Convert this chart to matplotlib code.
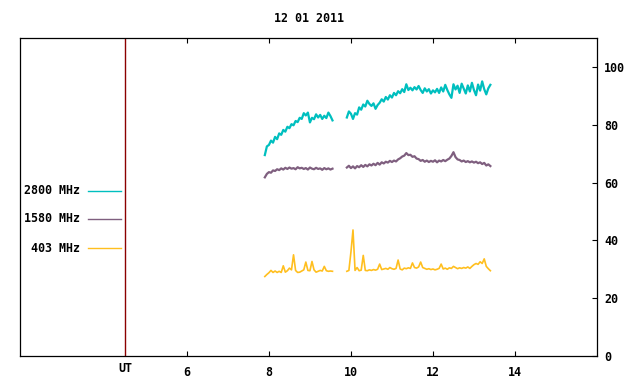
import numpy as np
import matplotlib
matplotlib.use("Agg")
import matplotlib.pyplot as plt
from matplotlib.lines import Line2D

title = "12 01 2011"
series_names = ["2800 MHz", "1580 MHz", "403 MHz"]
series_colors = ["#00bfbf", "#7f5f7f", "#ffbf1f"]

step = 0.05
seg1_start = 7.90
seg2_start = 9.90

f2800_a = [69.5, 72.5, 73.0, 74.5, 73.8, 75.8, 75.0, 77.0, 76.5, 78.2, 77.6, 79.3,
           78.8, 80.2, 79.8, 81.3, 80.9, 82.4, 82.0, 84.0, 83.2, 84.2, 80.8, 82.4,
           81.9, 83.6, 82.5, 83.4, 82.0, 83.1, 82.3, 84.2, 83.0, 81.5]
f2800_b = [82.5, 84.6, 83.8, 82.0, 84.0, 83.5, 86.0, 85.2, 87.0, 86.3, 88.3, 87.2,
           86.5, 87.4, 85.5, 86.8, 87.6, 88.8, 88.0, 89.6, 88.7, 90.2, 89.4, 91.0,
           90.2, 91.6, 90.9, 92.3, 91.3, 94.0, 92.0, 92.8, 91.9, 93.0, 92.2, 93.4,
           92.0, 91.0, 92.6, 91.5, 92.3, 90.8, 91.9, 91.2, 92.4, 91.0, 92.9, 91.5,
           93.8, 92.0, 90.5, 89.3, 94.0, 92.2, 93.5, 91.0, 94.2, 92.5, 90.8, 93.6,
           91.5, 94.5, 92.0, 90.2, 93.9, 91.8, 95.0, 92.3, 90.5, 92.6, 93.8]

f1580_a = [61.8, 63.0, 63.6, 63.4, 64.2, 64.0, 64.6, 64.3, 64.9, 64.5, 65.1, 64.7,
           65.2, 64.8, 65.0, 64.6, 65.3, 64.9, 65.1, 64.7, 65.0, 64.5, 65.2, 64.8,
           64.6, 65.1, 64.7, 64.9, 64.4, 65.0, 64.6, 64.9, 64.5, 64.8]
f1580_b = [65.2, 65.8, 65.0, 65.6, 64.9, 65.7, 65.3, 66.0, 65.4, 66.1, 65.6, 66.3,
           65.9, 66.5, 66.0, 66.8, 66.2, 67.0, 66.6, 67.2, 66.9, 67.5, 67.1, 67.6,
           67.3, 68.0, 68.4, 69.0, 69.3, 70.2, 69.5, 69.6, 68.9, 69.1, 68.3, 68.1,
           67.5, 67.8, 67.2, 67.6, 67.1, 67.5, 67.2, 67.7, 67.0, 67.6, 67.3, 67.8,
           67.4, 67.9, 68.3, 69.2, 70.5, 68.8, 68.0, 67.8, 67.3, 67.6, 67.1, 67.4,
           67.0, 67.3, 66.9, 67.2, 66.7, 67.0, 66.4, 66.8, 65.9, 66.3, 65.7]

f403_a = [27.5, 28.2, 28.8, 29.6, 28.9, 29.4, 28.9, 29.3, 28.9, 31.2, 29.0, 29.5,
          30.4, 29.8, 35.0, 29.6, 28.9, 29.0, 29.4, 29.8, 32.5, 29.6, 29.5, 32.7,
          29.8, 29.0, 29.3, 29.6, 29.4, 31.0, 29.5, 29.3, 29.4, 29.3]
f403_b = [29.3, 29.6, 36.0, 43.6, 29.6, 30.6, 29.5, 29.7, 34.8, 29.6, 29.5, 29.8,
          29.6, 29.9, 29.7, 30.0, 31.8, 29.9, 30.1, 30.3, 30.0, 30.6, 30.2, 30.0,
          30.3, 33.2, 30.1, 29.8, 30.4, 30.2, 30.5, 30.3, 32.2, 30.6, 30.4, 30.8,
          32.5, 30.6, 30.3, 30.0, 30.2, 29.9, 30.1, 29.8, 30.0, 30.3, 31.8, 30.1,
          30.4, 30.0, 30.5, 30.3, 31.0, 30.6, 30.2, 30.5, 30.3, 30.6, 30.4, 30.8,
          30.3, 31.0, 31.6, 32.0, 31.7, 32.6, 32.0, 33.6, 31.0, 30.2, 29.5]

x_ticks = [6, 8, 10, 12, 14]
y_ticks = [0, 20, 40, 60, 80, 100]
ut_position = 4.49

FONT = dict(family="DejaVu Sans Mono", weight="bold", size=8.4)

W, H = 640, 384
fig = plt.figure(figsize=(W / 100, H / 100), dpi=100)
L, R, T, B = 20, 597, 38, 356
ax = fig.add_axes([L / W, 1 - B / H, (R - L) / W, (B - T) / H])

def times(start, vals):
    return start + step * np.arange(len(vals))

segments = [(f2800_a, f2800_b), (f1580_a, f1580_b), (f403_a, f403_b)]
widths = [1.6, 1.6, 1.2]
for (a, b), c, w in zip(segments, series_colors, widths):
    ax.plot(times(seg1_start, a), a, color=c, lw=w)
    ax.plot(times(seg2_start, b), b, color=c, lw=w)

ax.axvline(ut_position, color="#8b0000", lw=1.0)

ax.set_xlim(1.93, 16.0)
ax.set_ylim(0, 110)
ax.set_xticks(x_ticks)
ax.set_xticklabels([str(v) for v in x_ticks], **FONT)
ax.yaxis.tick_right()
ax.set_yticks(y_ticks)
ax.set_yticklabels([str(v) for v in y_ticks], **FONT)
ax.tick_params(axis="x", direction="in", length=3.5, width=0.8, top=True, pad=7.5)
ax.tick_params(axis="y", direction="in", length=3.5, width=0.8, left=False, right=True, pad=5)
for s in ax.spines.values():
    s.set_linewidth(0.9)
    s.set_color("black")

# UT label
fig.text(125 / W, 1 - 368 / H, "UT", ha="center", va="center", **FONT)
# Title
fig.text(308.5 / W, 1 - 19 / H, title, ha="center", va="center", **FONT)

# Legend
leg_y = [191, 219, 248]
for name, c, y in zip(series_names, series_colors, leg_y):
    fig.text(80 / W, 1 - y / H, name, ha="right", va="center", **FONT)
    fig.add_artist(Line2D([88 / W, 121 / W], [1 - y / H, 1 - y / H],
                          color=c, lw=1.0, transform=fig.transFigure))

fig.savefig("out.png", dpi=100)
